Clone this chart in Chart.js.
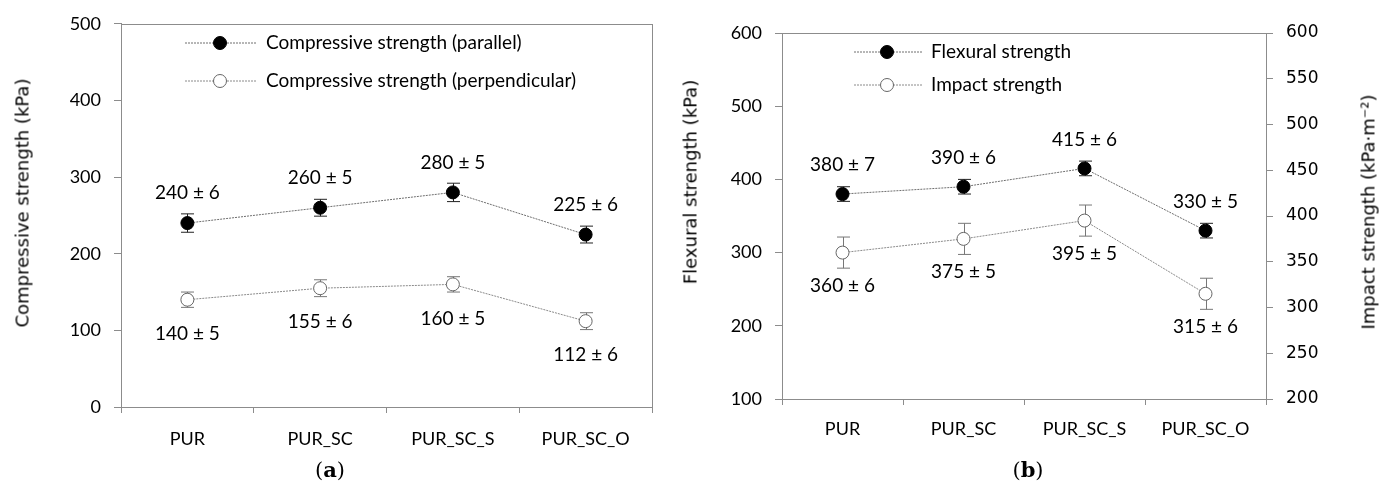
<!DOCTYPE html>
<html>
<head>
<meta charset="utf-8">
<script src="https://cdn.jsdelivr.net/npm/chart.js@4.4.0/dist/chart.umd.min.js"></script>
<style>
body { margin: 0; background: #fff; width: 1380px; height: 482px; overflow: hidden; position: relative; }
.box { position: absolute; top: 0; }
.ytitle { position: absolute; font-family: "DejaVu Sans"; font-size: 18px; white-space: nowrap; color: #000; transform: translate(-50%, -50%) rotate(-90deg); }
.cap { position: absolute; font-family: "DejaVu Serif"; font-size: 21px; color: #000; transform: translate(-50%, -50%); }
</style>
</head>
<body>
<div class="box" style="left:0;width:670px;height:482px"><canvas id="chartA" width="670" height="482"></canvas></div>
<div class="box" style="left:670px;width:710px;height:482px"><canvas id="chartB" width="710" height="482"></canvas></div>

<div class="ytitle" style="left:22px;top:203px">Compressive strength (kPa)</div>
<div class="ytitle" style="left:690px;top:182px">Flexural strength (kPa)</div>
<div class="ytitle" style="left:1368px;top:212px">Impact strength (kPa·m⁻²)</div>
<div class="cap" style="left:330px;top:469px">(<b>a</b>)</div>
<div class="cap" style="left:1028px;top:469px">(<b>b</b>)</div>

<script>
// categories
const categories = ['PUR', 'PUR_SC', 'PUR_SC_S', 'PUR_SC_O']

// (a) compressive strength, kPa
const compParallel = [240, 260, 280, 225]
const compParallelSD = [6, 5, 5, 6]
const compParallelBar = [12, 11, 12, 11]   // drawn error bar half length
const compPerp = [140, 155, 160, 112]
const compPerpSD = [5, 6, 5, 6]
const compPerpBar = [10, 11, 10, 11]

// (b) flexural (kPa) and impact (kPa·m-2)
const flexural = [380, 390, 415, 330]
const flexuralSD = [7, 6, 6, 5]
const flexuralBar = [10, 10, 10, 10]
const impact = [360, 375, 395, 315]
const impactSD = [6, 5, 5, 6]
const impactBar = [17, 17, 17, 17]

// axis ranges: min, max, step
const compTicks = [0, 500, 100]
const flexTicks = [100, 600, 100]
const impactTicks = [200, 600, 50]

const AXIS = '#8c8c8c'

// error bars under the markers
const errorBars = {
    id: 'errorBars',
    beforeDatasetsDraw(chart) {
        const ctx = chart.ctx
        chart.data.datasets.forEach((ds, i) => {
            const meta = chart.getDatasetMeta(i)
            const yScale = chart.scales[meta.yAxisID]
            ctx.save()
            ctx.strokeStyle = ds.errColor
            ctx.lineWidth = 1
            meta.data.forEach((pt, j) => {
                const top = yScale.getPixelForValue(ds.data[j] + ds.errors[j])
                const bot = yScale.getPixelForValue(ds.data[j] - ds.errors[j])
                const x = Math.round(pt.x) + 0.5
                ctx.beginPath()
                ctx.moveTo(x, top); ctx.lineTo(x, bot)
                ctx.moveTo(x - 6.5, top); ctx.lineTo(x + 6.5, top)
                ctx.moveTo(x - 6.5, bot); ctx.lineTo(x + 6.5, bot)
                ctx.stroke()
            })
            ctx.restore()
        })
    }
}

// "value ± sd" text above / below each point
const valueLabels = {
    id: 'valueLabels',
    afterDatasetsDraw(chart) {
        const ctx = chart.ctx
        ctx.save()
        ctx.font = '19px Lato'
        ctx.fillStyle = '#000'
        ctx.textAlign = 'center'
        ctx.textBaseline = 'middle'
        chart.data.datasets.forEach((ds, i) => {
            chart.getDatasetMeta(i).data.forEach((pt, j) => {
                ctx.fillText(ds.data[j] + ' ± ' + ds.sd[j], pt.x, pt.y + ds.labelOffset)
            })
        })
        ctx.restore()
    }
}

// box round the plot area
const plotBorder = {
    id: 'plotBorder',
    afterDraw(chart) {
        const a = chart.chartArea
        const ctx = chart.ctx
        ctx.save()
        ctx.strokeStyle = AXIS
        ctx.lineWidth = 1
        ctx.strokeRect(Math.round(a.left) + 0.5, Math.round(a.top) + 0.5, Math.round(a.right - a.left), Math.round(a.bottom - a.top))
        ctx.restore()
    }
}

// legend: dotted line with the marker in the middle
const lineLegend = {
    id: 'lineLegend',
    afterDraw(chart, args, opts) {
        const ctx = chart.ctx
        chart.data.datasets.forEach((ds, i) => {
            const y = opts.ys[i]
            ctx.save()
            ctx.strokeStyle = ds.borderColor
            ctx.lineWidth = 1
            ctx.setLineDash([2, 1])
            ctx.beginPath()
            ctx.moveTo(opts.x1, y); ctx.lineTo(opts.x2, y)
            ctx.stroke()
            ctx.setLineDash([])
            ctx.beginPath()
            ctx.arc(opts.mx, y, ds.pointRadius, 0, Math.PI * 2)
            ctx.fillStyle = ds.pointBackgroundColor
            ctx.fill()
            ctx.strokeStyle = ds.pointBorderColor
            ctx.stroke()
            ctx.font = '19px Lato'
            ctx.fillStyle = '#000'
            ctx.textBaseline = 'middle'
            ctx.fillText(ds.label, opts.tx, y)
            ctx.restore()
        })
    }
}

function series(label, data, sd, bar, filled, offset, axis) {
    return {
        label: label,
        data: data,
        sd: sd,
        errors: bar,
        labelOffset: offset,
        yAxisID: axis,
        borderColor: filled ? '#6e6e6e' : '#8a8a8a',
        borderWidth: 1,
        borderDash: [2, 1],
        tension: 0,
        pointRadius: 6.5,
        pointBorderWidth: 1,
        pointBackgroundColor: filled ? '#000' : '#fff',
        pointBorderColor: filled ? '#000' : '#666',
        errColor: filled ? '#222' : '#777'
    }
}

function yAxis(range, pos, font, width) {
    return {
        position: pos,
        min: range[0],
        max: range[1],
        ticks: { stepSize: range[2], color: '#000', font: font, padding: 13 },
        grid: { drawOnChartArea: false, tickLength: 7, tickColor: AXIS },
        border: { color: AXIS },
        afterFit: (s) => { s.width = width }
    }
}

function xAxis(height, pad) {
    return {
        offset: true,
        ticks: { color: '#000', font: { family: 'Lato', size: 18 }, padding: pad },
        grid: { offset: true, drawOnChartArea: false, tickLength: 6, tickColor: AXIS },
        border: { color: AXIS },
        afterFit: (s) => { s.height = height }
    }
}

const lato18 = { family: 'Lato', size: 18 }

new Chart(document.getElementById('chartA'), {
    type: 'line',
    data: {
        labels: categories,
        datasets: [
            series('Compressive strength (parallel)', compParallel, compParallelSD, compParallelBar, true, -30, 'y'),
            series('Compressive strength (perpendicular)', compPerp, compPerpSD, compPerpBar, false, 34, 'y')
        ]
    },
    options: {
        responsive: false,
        animation: false,
        events: [],
        layout: { padding: { top: 23, right: 18, left: 0, bottom: 0 } },
        scales: {
            x: xAxis(75, 15),
            y: yAxis(compTicks, 'left', lato18, 121)
        },
        plugins: {
            legend: { display: false },
            tooltip: { enabled: false },
            lineLegend: { x1: 185, x2: 257, mx: 220, tx: 266, ys: [43, 81] }
        }
    },
    plugins: [errorBars, valueLabels, plotBorder, lineLegend]
})

new Chart(document.getElementById('chartB'), {
    type: 'line',
    data: {
        labels: categories,
        datasets: [
            series('Flexural strength', flexural, flexuralSD, flexuralBar, true, -29, 'y'),
            series('Impact strength', impact, impactSD, impactBar, false, 33, 'y2')
        ]
    },
    options: {
        responsive: false,
        animation: false,
        events: [],
        layout: { padding: { top: 33, right: 0, left: 0, bottom: 0 } },
        scales: {
            x: xAxis(83, 13),
            y: yAxis(flexTicks, 'left', lato18, 112),
            y2: yAxis(impactTicks, 'right', { family: 'DejaVu Sans', size: 17 }, 114)
        },
        plugins: {
            legend: { display: false },
            tooltip: { enabled: false },
            lineLegend: { x1: 184, x2: 253, mx: 217, tx: 261, ys: [52, 85] }
        }
    },
    plugins: [errorBars, valueLabels, plotBorder, lineLegend]
})
</script>
</body>
</html>
